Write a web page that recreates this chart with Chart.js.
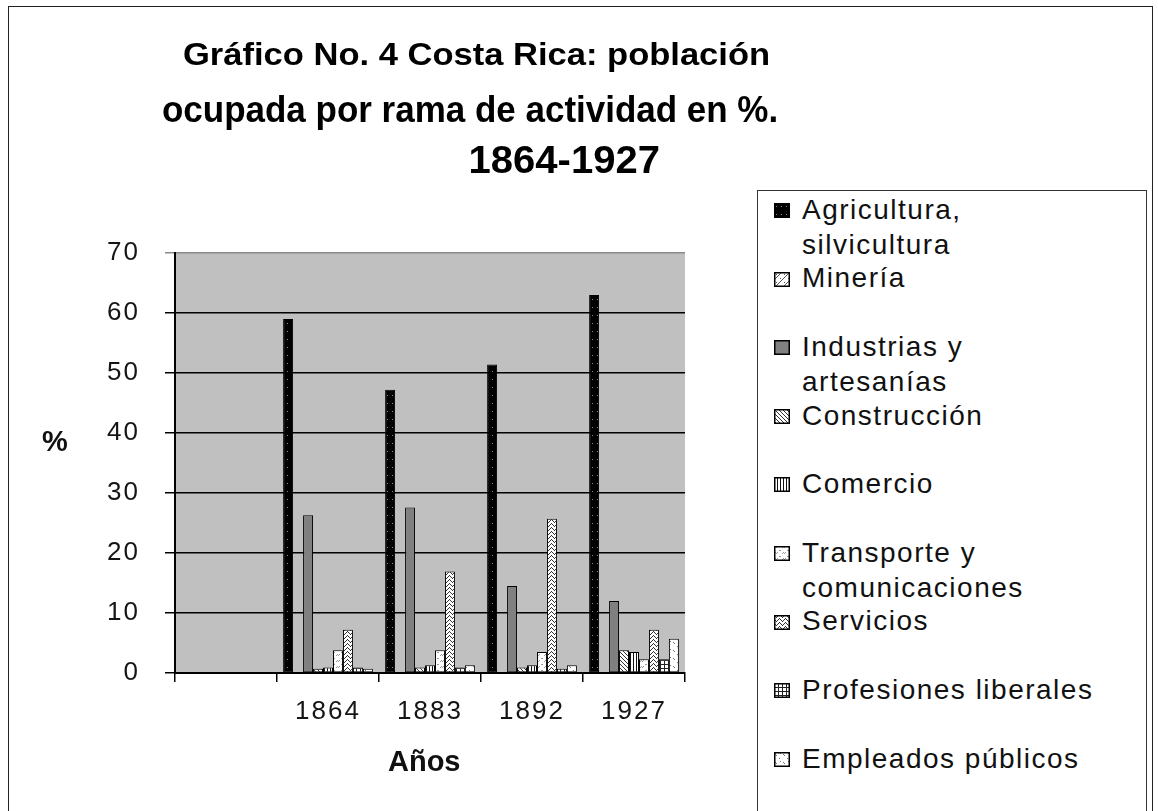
<!DOCTYPE html>
<html>
<head>
<meta charset="utf-8">
<script src="https://cdn.jsdelivr.net/npm/chart.js@4.4.1/dist/chart.umd.min.js"></script>
<style>
html,body{margin:0;padding:0;background:#fff;}
#wrap{position:relative;width:1158px;height:811px;overflow:hidden;font-family:"Liberation Sans",Arial,sans-serif;background:#fff;}
#c{position:absolute;left:0;top:0;}
#frame{position:absolute;left:8px;top:6px;width:1145px;height:830px;border:1.5px solid #222;box-sizing:border-box;}
.t{position:absolute;white-space:nowrap;font-weight:bold;color:#000;line-height:1;transform-origin:center center;}
#legend{position:absolute;left:757px;top:190px;width:390px;height:660px;border:1.5px solid #333;box-sizing:border-box;background:#fff;}
.lt{position:absolute;left:44px;white-space:nowrap;font-size:28px;line-height:35px;letter-spacing:1.5px;color:#111;}
.sw{position:absolute;left:16px;}
.axt{position:absolute;white-space:nowrap;font-weight:bold;color:#111;line-height:1;font-size:29px;}
</style>
</head>
<body>
<div id="wrap">
  <div id="frame"></div>
  <canvas id="c" width="1158" height="811"></canvas>
  <div id="titles"></div>
  <div class="axt" id="ytitle" style="left:42px;top:427px;">%</div>
  <div class="axt" id="xtitle" style="left:388px;top:747px;">Años</div>
  <div id="legend"></div>
</div>
<script>
// ---- data ----
const years = ["", "1864", "1883", "1892", "1927"];
const agricultura  = [null, 59.0, 47.2, 51.4, 63.0];
const mineria      = [null, 0, 0, 0, 0];
const industrias   = [null, 26.3, 27.6, 14.5, 12.0];
const construccion = [null, 0.7, 0.9, 0.9, 3.8];
const comercio     = [null, 0.9, 1.3, 1.3, 3.5];
const transporte   = [null, 3.8, 3.8, 3.5, 2.3];
const servicios    = [null, 7.2, 16.9, 25.7, 7.2];
const profesiones  = [null, 0.9, 0.9, 0.7, 2.3];
const empleados    = [null, 0.7, 1.3, 1.3, 5.7];
const seriesLines = [
  ["Agricultura,", "silvicultura"],
  ["Minería"],
  ["Industrias y", "artesanías"],
  ["Construcción"],
  ["Comercio"],
  ["Transporte y", "comunicaciones"],
  ["Servicios"],
  ["Profesiones liberales"],
  ["Empleados públicos"]
];
const seriesValues = [agricultura, mineria, industrias, construccion, comercio, transporte, servicios, profesiones, empleados];
const titleLines = ["Gráfico No. 4 Costa Rica: población", "ocupada por rama de actividad en %.", "1864-1927"];
const yTicks = [0, 10, 20, 30, 40, 50, 60, 70];

// ---- patterns ----
function tile(w, h, bg, pix, col) {
  const c = document.createElement('canvas'); c.width = w; c.height = h;
  const x = c.getContext('2d');
  x.fillStyle = bg; x.fillRect(0, 0, w, h);
  x.fillStyle = col;
  pix.forEach(p => x.fillRect(p[0], p[1], p[2] || 1, p[3] || 1));
  return c;
}
const tiles = [
  tile(5, 8, '#000', [[2, 3]], '#8a8a8a'),
  tile(8, 8, '#fff', [[0,7],[1,6],[2,5],[3,4],[4,3],[5,2],[6,1],[7,0],[2,2],[6,6]], '#555'),
  tile(4, 4, '#808080', [], '#808080'),
  tile(4, 4, '#fff', [[0,0],[1,1],[2,2],[3,3]], '#333'),
  tile(3, 2, '#fff', [[0,0,1,2]], '#111'),
  tile(8, 6, '#fff', [[0,1],[1,0],[2,1],[3,0],[5,4,2,1]], '#9a9a9a'),
  tile(6, 4, '#fff', [[0,0],[1,1],[2,2],[3,1],[4,0],[5,3]], '#333'),
  tile(4, 4, '#fff', [[0,0,4,1],[0,0,1,4]], '#222'),
  tile(8, 8, '#fff', [[1,2],[2,3],[5,6],[6,1]], '#777')
];
const cv = document.getElementById('c');
const ctx = cv.getContext('2d');
const patterns = tiles.map(t => ctx.createPattern(t, 'repeat'));

// ---- titles ----
const titleSpec = [
  {size: 31, baseline: 65, left: 183, right: 770},
  {size: 36, baseline: 122, left: 162, right: 778},
  {size: 39, baseline: 173, left: 468, right: 660}
];
const tdiv = document.getElementById('titles');
titleLines.forEach((txt, i) => {
  const s = titleSpec[i];
  const sp = document.createElement('span');
  sp.className = 't'; sp.textContent = txt;
  sp.style.fontSize = s.size + 'px';
  sp.style.top = (s.baseline - 0.8465 * s.size) + 'px';
  tdiv.appendChild(sp);
  const w = sp.offsetWidth;
  const target = s.right - s.left;
  sp.style.left = ((s.left + s.right) / 2 - w / 2) + 'px';
  sp.style.transform = 'scaleX(' + (target / w) + ')';
});

// ---- legend ----
const leg = document.getElementById('legend');
seriesLines.forEach((lines, i) => {
  const baseline = 218 + i * 68.6 - 190;
  const d = document.createElement('div');
  d.className = 'lt';
  d.style.top = (baseline - 27.2) + 'px';
  d.innerHTML = lines.join('<br>');
  leg.appendChild(d);
  const sw = document.createElement('canvas');
  sw.className = 'sw'; sw.width = 16; sw.height = 15;
  sw.style.top = (baseline - 16) + 'px';
  const sx = sw.getContext('2d');
  sx.fillStyle = sx.createPattern(tiles[i], 'repeat');
  sx.fillRect(0, 0, 16, 15);
  sx.strokeStyle = '#000'; sx.lineWidth = 1.5;
  sx.strokeRect(0.75, 0.75, 14.5, 13.5);
  leg.appendChild(sw);
});

// ---- chart ----
const plotBg = {
  id: 'plotBg',
  beforeDraw(chart) {
    const a = chart.chartArea, c = chart.ctx;
    c.save();
    c.fillStyle = '#c0c0c0';
    c.fillRect(a.left, a.top, a.right - a.left, a.bottom - a.top);
    c.restore();
    c.letterSpacing = '2px';
  }
};
const tickFont = {family: "'Liberation Sans', Arial, sans-serif", size: 26};
new Chart(ctx, {
  type: 'bar',
  data: {
    labels: years,
    datasets: seriesValues.map((vals, i) => ({
      label: seriesLines[i].join(' '),
      data: vals,
      backgroundColor: patterns[i],
      borderColor: '#000',
      borderWidth: 1,
      borderSkipped: false,
      categoryPercentage: 0.88,
      barPercentage: 1.0
    }))
  },
  options: {
    responsive: false,
    animation: false,
    layout: {padding: {left: 0, right: 473, top: 253, bottom: 0}},
    plugins: {legend: {display: false}, tooltip: {enabled: false}, title: {display: false}},
    scales: {
      x: {
        grid: {display: true, drawOnChartArea: false, drawTicks: true, tickLength: 9, color: '#000', lineWidth: 1.5, offset: true},
        border: {display: true, color: '#000', width: 2},
        ticks: {color: '#151515', font: tickFont, padding: 14, maxRotation: 0, autoSkip: false},
        afterFit(s) { s.height = 138; }
      },
      y: {
        min: 0, max: 70,
        afterBuildTicks(s) { s.ticks = yTicks.map(v => ({value: v})); },
        grid: {
          drawTicks: true, tickLength: 10, lineWidth: 1.5,
          color: (c) => (c.tick && c.tick.value === 70 ? '#8a8a8a' : '#000')
        },
        border: {display: true, color: '#000', width: 2},
        ticks: {color: '#151515', font: tickFont, padding: 25},
        afterFit(s) { s.width = 175; }
      }
    }
  },
  plugins: [plotBg]
});
</script>
</body>
</html>
